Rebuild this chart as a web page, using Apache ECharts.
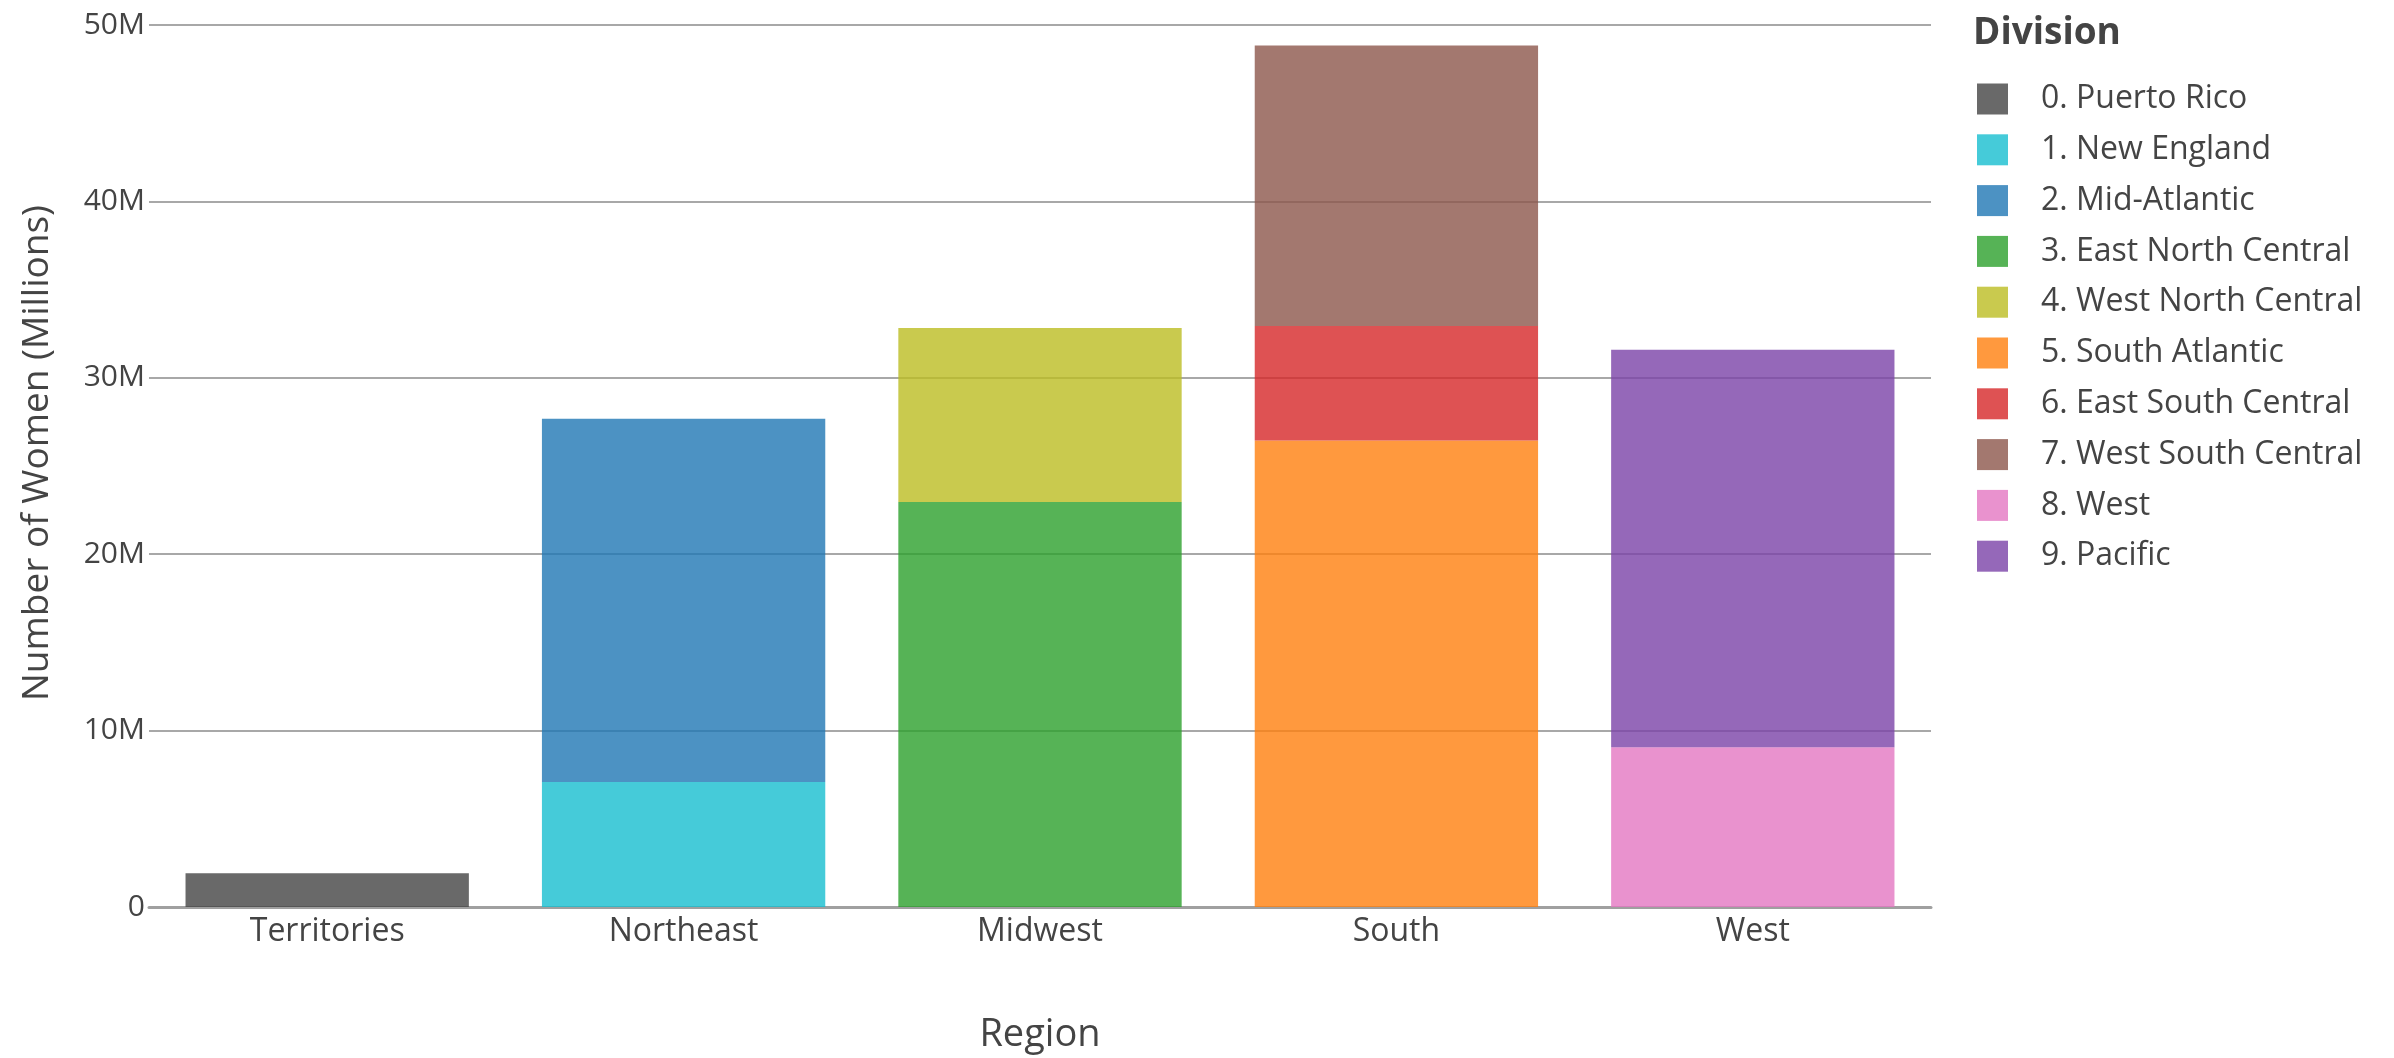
<!DOCTYPE html>
<html>
<head>
<meta charset="utf-8">
<script src="https://cdn.jsdelivr.net/npm/echarts@6/dist/echarts.min.js"></script>
<style>
html,body{margin:0;padding:0;background:#fff;}
#chart{width:2394px;height:1058px;}
</style>
</head>
<body>
<div id="chart"></div>
<script>
// Categories (regions)
const regions = ['Territories', 'Northeast', 'Midwest', 'South', 'West'];
// Division names (legend)
const divisions = ['0. Puerto Rico', '1. New England', '2. Mid-Atlantic', '3. East North Central',
  '4. West North Central', '5. South Atlantic', '6. East South Central', '7. West South Central',
  '8. West', '9. Pacific'];
// Values in millions, per region
const puertoRico        = [1.92, null, null, null, null];
const newEngland        = [null, 7.09, null, null, null];
const midAtlantic       = [null, 20.59, null, null, null];
const eastNorthCentral  = [null, null, 22.96, null, null];
const westNorthCentral  = [null, null, 9.86, null, null];
const southAtlantic     = [null, null, null, 26.44, null];
const eastSouthCentral  = [null, null, null, 6.50, null];
const westSouthCentral  = [null, null, null, 15.90, null];
const westDiv           = [null, null, null, null, 9.06];
const pacific           = [null, null, null, null, 22.53];
// Y tick values (millions)
const yTicks = [0, 10, 20, 30, 40, 50];

const seriesValues = [puertoRico, newEngland, midAtlantic, eastNorthCentral, westNorthCentral,
  southAtlantic, eastSouthCentral, westSouthCentral, westDiv, pacific];
const colors = ['rgba(68,68,68,0.8)', 'rgba(23,190,207,0.8)', 'rgba(31,119,180,0.8)',
  'rgba(44,160,44,0.8)', 'rgba(188,189,34,0.8)', 'rgba(255,127,14,0.8)',
  'rgba(214,39,40,0.8)', 'rgba(140,86,75,0.8)', 'rgba(227,119,194,0.8)', 'rgba(123,66,168,0.8)'];

const FONT = '"Open Sans", "Noto Sans", sans-serif';
const chart = echarts.init(document.getElementById('chart'), null, {renderer: 'canvas'});
chart.setOption({
  animation: false,
  backgroundColor: '#fff',
  textStyle: {fontFamily: FONT},
  title: {
    text: 'Division',
    left: 1968, top: 10,
    textStyle: {fontFamily: FONT, fontSize: 37, fontWeight: 'bold', color: '#444'}
  },
  legend: {
    orient: 'vertical',
    left: 1972, top: 78,
    itemWidth: 31, itemHeight: 31, itemGap: 18.8,
    icon: 'rect',
    data: divisions,
    textStyle: {fontFamily: FONT, fontSize: 32, color: '#444', padding: [0, 0, 0, 28]}
  },
  grid: {left: 149, right: 463, top: 25, bottom: 151, containLabel: false, outerBoundsMode: 'none'},
  xAxis: {
    type: 'category',
    data: regions,
    name: 'Region',
    nameLocation: 'middle',
    nameGap: 109,
    nameTextStyle: {fontFamily: FONT, fontSize: 38, color: '#444'},
    axisLine: {show: true, lineStyle: {color: '#a0a0a0', width: 3}},
    axisTick: {show: false},
    axisLabel: {fontFamily: FONT, fontSize: 32, color: '#444', margin: 9}
  },
  yAxis: {
    type: 'value',
    min: 0, max: 50, interval: 10,
    name: 'Number of Women (Millions)',
    nameLocation: 'middle',
    nameGap: 93,
    nameTextStyle: {fontFamily: FONT, fontSize: 37, color: '#444', padding: [0, 0, 0, 26]},
    axisLine: {show: false},
    axisTick: {show: false},
    splitLine: {show: true, lineStyle: {color: '#a8a8a8', width: 2}},
    axisLabel: {
      fontFamily: FONT, fontSize: 30, color: '#444', margin: 4,
      formatter: v => yTicks.includes(v) ? (v === 0 ? '0' : v + 'M') : ''
    }
  },
  series: seriesValues.map((vals, i) => ({
    name: divisions[i],
    type: 'bar',
    stack: 'total',
    barCategoryGap: '20.5%',
    data: vals,
    itemStyle: {color: colors[i]}
  }))
});
</script>
</body>
</html>
